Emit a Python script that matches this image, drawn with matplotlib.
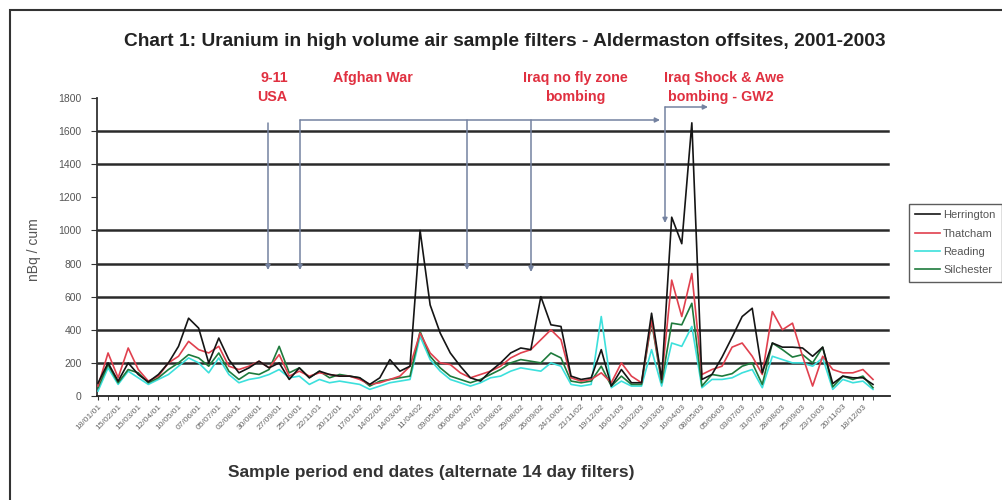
import matplotlib
matplotlib.use('Agg')
import matplotlib.pyplot as plt
from matplotlib.patches import Rectangle
from matplotlib.lines import Line2D

# ---------------- data ----------------
series_names = ['Herrington', 'Thatcham', 'Reading', 'Silchester']

herrington = [78, 200, 90, 200, 130, 85, 130, 200, 300, 470,
              410, 200, 350, 220, 140, 170, 210, 170, 200, 100,
              170, 110, 150, 130, 120, 120, 110, 70, 110, 220,
              150, 180, 1000, 550, 380, 260, 180, 110, 90, 150,
              200, 260, 290, 280, 600, 430, 420, 120, 100, 110,
              280, 60, 160, 80, 80, 500, 100, 1080, 920, 1650,
              100, 130, 235, 355, 480, 530, 140, 320, 295, 295,
              290, 240, 295, 75, 120, 110, 110, 70]

thatcham = [60, 260, 110, 290, 160, 90, 120, 200, 240, 330,
            280, 260, 300, 180, 160, 180, 210, 170, 250, 120,
            150, 120, 140, 130, 120, 120, 100, 70, 80, 100,
            120, 180, 380, 260, 200, 190, 140, 110, 130, 150,
            180, 230, 260, 280, 340, 400, 340, 110, 90, 100,
            140, 80, 200, 120, 80, 460, 100, 700, 480, 740,
            130, 160, 180, 295, 320, 240, 130, 510, 400, 440,
            240, 60, 240, 160, 140, 140, 160, 100]

silchester = [50, 190, 80, 160, 140, 80, 110, 160, 200, 250,
              230, 180, 260, 150, 100, 140, 130, 160, 300, 140,
              170, 110, 150, 110, 130, 120, 110, 60, 90, 100,
              110, 120, 390, 240, 170, 120, 100, 80, 100, 130,
              160, 200, 220, 210, 200, 260, 230, 90, 80, 90,
              180, 60, 120, 70, 70, 450, 80, 440, 430, 560,
              60, 130, 120, 135, 180, 200, 70, 320, 280, 235,
              250, 200, 295, 55, 120, 100, 120, 50]

reading = [30, 170, 70, 150, 110, 70, 100, 130, 180, 230,
           200, 140, 230, 130, 80, 100, 110, 130, 160, 110,
           120, 70, 100, 80, 90, 80, 70, 40, 60, 80,
           90, 100, 360, 220, 150, 100, 80, 60, 80, 110,
           120, 150, 170, 160, 150, 200, 180, 70, 60, 70,
           480, 50, 90, 60, 60, 280, 60, 320, 300, 420,
           50, 100, 100, 110, 140, 160, 50, 240, 220, 200,
           200, 180, 230, 40, 100, 80, 90, 40]

# labels on every other sample (alternate 14-day filters)
date_labels = ['18/01/01', '15/02/01', '15/03/01', '12/04/01', '10/05/01',
               '07/06/01', '05/07/01', '02/08/01', '30/08/01', '27/09/01',
               '25/10/01', '22/11/01', '20/12/01', '17/01/02', '14/02/02',
               '14/03/02', '11/04/02', '09/05/02', '06/06/02', '04/07/02',
               '01/08/02', '29/08/02', '26/09/02', '24/10/02', '21/11/02',
               '19/12/02', '16/01/03', '13/02/03', '13/03/03', '10/04/03',
               '08/05/03', '05/06/03', '03/07/03', '31/07/03', '28/08/03',
               '25/09/03', '23/10/03', '20/11/03', '18/12/03']

y_ticks = [0, 200, 400, 600, 800, 1000, 1200, 1400, 1600, 1800]
grid_values = [200, 400, 600, 800, 1000, 1400, 1600]

title = 'Chart 1: Uranium in high volume air sample filters - Aldermaston offsites, 2001-2003'
xlabel = 'Sample period end dates (alternate 14 day filters)'
ylabel = 'nBq / cum'

# ---------------- figure ----------------
W, H = 1002, 500
fig = plt.figure(figsize=(W / 100, H / 100), dpi=100)
plt.rcParams['font.family'] = ['Liberation Sans', 'DejaVu Sans']

ax_l, ax_r, ax_b, ax_t = 97, 890, 396, 98
ax = fig.add_axes([ax_l / W, 1 - ax_b / H, (ax_r - ax_l) / W, (ax_b - ax_t) / H])

n = len(herrington)
xs = list(range(n))
x0_px, step_px = 98, 10.065
xmin = (ax_l - x0_px) / step_px
xmax = (ax_r - x0_px) / step_px
ax.set_xlim(xmin, xmax)
ax.set_ylim(0, 1800)

def px2i(px):
    return (px - x0_px) / step_px

def py2v(py):
    return (ax_b - py) / (ax_b - ax_t) * 1800

for v in grid_values:
    ax.axhline(v, color='#2a2a2a', lw=1.8, zorder=1,
               xmax=(888 - ax_l) / (ax_r - ax_l))

colors = {'Herrington': '#151515', 'Thatcham': '#e0404e',
          'Reading': '#3ce0dc', 'Silchester': '#1e7a3c'}
data = {'Herrington': herrington, 'Thatcham': thatcham,
        'Reading': reading, 'Silchester': silchester}
for name in ['Reading', 'Silchester', 'Thatcham', 'Herrington']:
    ax.plot(xs, data[name], color=colors[name], lw=1.2, zorder=3)

for s in ['top', 'right']:
    ax.spines[s].set_visible(False)
ax.spines['left'].set_color('#333333')
ax.spines['left'].set_linewidth(1.3)
ax.spines['bottom'].set_color('#222222')
ax.spines['bottom'].set_linewidth(1.3)

ax.set_yticks(y_ticks)
ax.set_yticklabels([str(v) for v in y_ticks], fontsize=7.5, color='#555555')
ax.tick_params(axis='y', direction='out', length=4, color='#333333', pad=7)

ax.set_xticks(xs, minor=True)
ax.set_xticks(xs[::2])
ax.set_xticklabels(date_labels, rotation=45, ha='right', rotation_mode='anchor',
                   fontsize=6, color='#666666')
ax.tick_params(axis='x', which='both', direction='out', length=3, color='#333333', pad=2)

# legend
handles = [Line2D([], [], color=colors[nm], lw=1.2) for nm in series_names]
leg = fig.legend(handles, series_names, loc='upper left',
                 bbox_to_anchor=(903 / W, 1 - 198 / H), fontsize=8,
                 frameon=True, fancybox=False, handlelength=2.2,
                 borderpad=0.6, labelspacing=0.75, handletextpad=0.3)
leg.get_frame().set_edgecolor('#333333')
leg.get_frame().set_linewidth(1.0)
for t in leg.get_texts():
    t.set_color('#555555')

# outer chart border
fig.add_artist(Rectangle((10 / W, -0.05), 1.05, 1 - 10 / H + 0.05, transform=fig.transFigure,
                         fill=False, edgecolor='#333333', lw=1.5))

# titles
fig.text(505 / W, 1 - 42 / H, title, ha='center', va='center', fontsize=13.8,
         color='#222222', fontweight='bold')
fig.text(431 / W, 1 - 472 / H, xlabel, ha='center', va='center', fontsize=12.5,
         color='#333333', fontweight='bold')
fig.text(34 / W, 1 - 250 / H, ylabel, ha='center', va='center', rotation=90,
         fontsize=10, color='#555555')

# event annotations
acol = '#7482a0'
red = '#e03040'

def varrow(xpx, ytop, ybot):
    ax.annotate('', xy=(px2i(xpx), py2v(ybot)), xytext=(px2i(xpx), py2v(ytop)),
                arrowprops=dict(arrowstyle='-|>', color=acol, lw=1.1, mutation_scale=7,
                                shrinkA=0, shrinkB=0), annotation_clip=False)

def harrow(x1, x2, ypx):
    ax.annotate('', xy=(px2i(x2), py2v(ypx)), xytext=(px2i(x1), py2v(ypx)),
                arrowprops=dict(arrowstyle='-|>', color=acol, lw=1.1, mutation_scale=7,
                                shrinkA=0, shrinkB=0), annotation_clip=False)

varrow(268, 123, 270)
varrow(300, 120, 270)
harrow(300, 660, 120)
varrow(467, 120, 270)
varrow(531, 120, 272)
varrow(665, 107, 223)
harrow(665, 708, 107)

def etext(xpx, ypx, s):
    ax.text(px2i(xpx), py2v(ypx), s, ha='center', va='center', fontsize=10.3,
            color=red, fontweight='bold', clip_on=False)

etext(274, 78, '9-11')
etext(272, 97, 'USA')
etext(373, 78, 'Afghan War')
etext(575, 78, 'Iraq no fly zone')
etext(575, 97, 'bombing')
etext(724, 78, 'Iraq Shock & Awe')
etext(721, 97, 'bombing - GW2')

fig.savefig('out.png', dpi=100)
